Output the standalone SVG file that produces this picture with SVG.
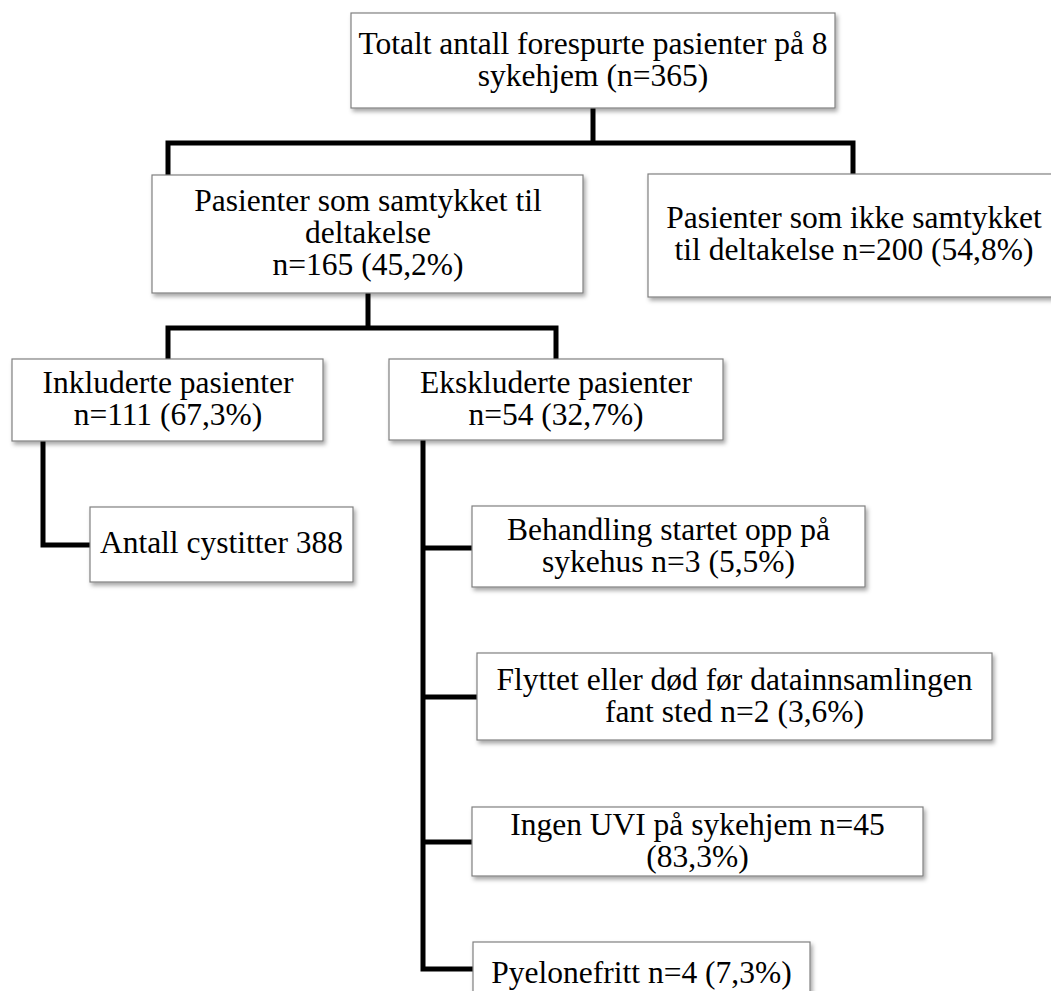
<svg xmlns="http://www.w3.org/2000/svg" width="1051" height="991" viewBox="0 0 1051 991">
<style>
.box{fill:#ffffff;stroke:#808080;stroke-width:1.2;filter:url(#sh)}
.t{font-family:"Liberation Serif","Times New Roman",serif;font-size:31.5px;fill:#000000;text-anchor:middle}
.c{fill:none;stroke:#000000;stroke-width:5;stroke-linejoin:miter;stroke-linecap:butt}
</style>
<defs>
<filter id="sh" x="-5%" y="-10%" width="115%" height="130%">
<feDropShadow dx="2" dy="3" stdDeviation="2" flood-color="#000000" flood-opacity="0.35"/>
</filter>
</defs>
<rect width="1051" height="991" fill="#ffffff"/>
<g id="connectors">
<path class="c" d="M593,108 V143"/>
<path class="c" d="M168,175 V143 H853 V174"/>
<path class="c" d="M368,293 V328"/>
<path class="c" d="M168,359 V328 H556 V359"/>
<path class="c" d="M43,441 V545 H90"/>
<path class="c" d="M423,440 V969 H473"/>
<path class="c" d="M423,548 H472"/>
<path class="c" d="M423,697 H477"/>
<path class="c" d="M423,842 H472"/>
</g>
<g id="n-total">
<rect class="box" x="351" y="13" width="484" height="95"/>
<text class="t" x="593" y="54">Totalt antall forespurte pasienter på 8</text>
<text class="t" x="593" y="86">sykehjem (n=365)</text>
</g>
<g id="n-samtykket">
<rect class="box" x="152" y="175" width="431" height="118"/>
<text class="t" x="368" y="211">Pasienter som samtykket til</text>
<text class="t" x="368" y="243">deltakelse</text>
<text class="t" x="368" y="275">n=165 (45,2%)</text>
</g>
<g id="n-ikke">
<rect class="box" x="648" y="174" width="412" height="123"/>
<text class="t" x="854" y="228">Pasienter som ikke samtykket</text>
<text class="t" x="854" y="260">til deltakelse n=200 (54,8%)</text>
</g>
<g id="n-inkluderte">
<rect class="box" x="12" y="359" width="311" height="82"/>
<text class="t" x="168" y="393">Inkluderte pasienter</text>
<text class="t" x="168" y="425">n=111 (67,3%)</text>
</g>
<g id="n-ekskluderte">
<rect class="box" x="389" y="359" width="334" height="81"/>
<text class="t" x="556" y="393">Ekskluderte pasienter</text>
<text class="t" x="556" y="425">n=54 (32,7%)</text>
</g>
<g id="n-cystitter">
<rect class="box" x="90" y="507" width="263" height="75"/>
<text class="t" x="221.5" y="553">Antall cystitter 388</text>
</g>
<g id="n-behandling">
<rect class="box" x="472" y="506" width="393" height="81"/>
<text class="t" x="668.5" y="540">Behandling startet opp på</text>
<text class="t" x="668.5" y="572">sykehus n=3 (5,5%)</text>
</g>
<g id="n-flyttet">
<rect class="box" x="477" y="653" width="515" height="87"/>
<text class="t" x="734.5" y="690">Flyttet eller død før datainnsamlingen</text>
<text class="t" x="734.5" y="722">fant sted n=2 (3,6%)</text>
</g>
<g id="n-ingen">
<rect class="box" x="472" y="807" width="451" height="69"/>
<text class="t" x="697.5" y="835">Ingen UVI på sykehjem n=45</text>
<text class="t" x="697.5" y="867">(83,3%)</text>
</g>
<g id="n-pyelo">
<rect class="box" x="473" y="942" width="337" height="72"/>
<text class="t" x="641.5" y="983">Pyelonefritt n=4 (7,3%)</text>
</g>
</svg>
